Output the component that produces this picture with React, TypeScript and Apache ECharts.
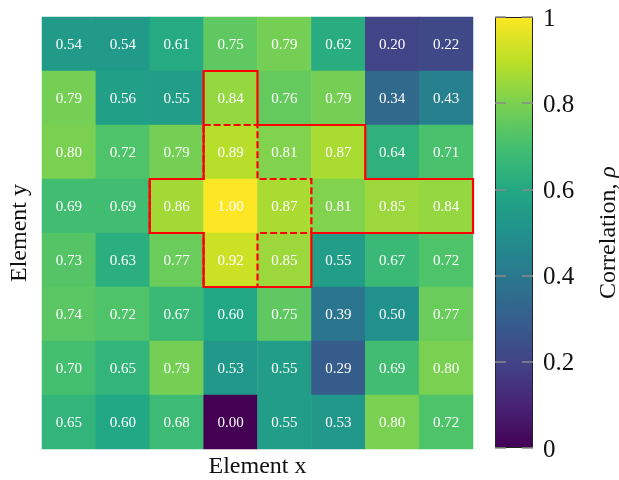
import React, { useEffect, useRef } from "react";
import * as echarts from "echarts";

// Column / row categories of the correlation matrix
const xCategories = ["0", "1", "2", "3", "4", "5", "6", "7"];
const yCategories = ["0", "1", "2", "3", "4", "5", "6", "7"];

// Correlation values, rows listed top to bottom
const rho: number[][] = [
  [0.54, 0.54, 0.61, 0.75, 0.79, 0.62, 0.2, 0.22],
  [0.79, 0.56, 0.55, 0.84, 0.76, 0.79, 0.34, 0.43],
  [0.8, 0.72, 0.79, 0.89, 0.81, 0.87, 0.64, 0.71],
  [0.69, 0.69, 0.86, 1.0, 0.87, 0.81, 0.85, 0.84],
  [0.73, 0.63, 0.77, 0.92, 0.85, 0.55, 0.67, 0.72],
  [0.74, 0.72, 0.67, 0.6, 0.75, 0.39, 0.5, 0.77],
  [0.7, 0.65, 0.79, 0.53, 0.55, 0.29, 0.69, 0.8],
  [0.65, 0.6, 0.68, 0.0, 0.55, 0.53, 0.8, 0.72],
];

// Colour bar tick values
const colorbarTicks = [0, 0.2, 0.4, 0.6, 0.8, 1];

// Viridis colour map stops
const viridis = [
  "#440154", "#482475", "#414487", "#355f8d", "#2a788e", "#21918c",
  "#22a884", "#44bf70", "#7ad151", "#bddf26", "#fde725",
];

// Outlines expressed as cell-edge indices [column edge, row edge]
const regionOutline: [number, number][] = [
  [3, 1], [4, 1], [4, 2], [6, 2], [6, 3], [8, 3], [8, 4], [5, 4],
  [5, 5], [3, 5], [3, 4], [2, 4], [2, 3], [3, 3],
];
const crossOutline: [number, number][] = [
  [3, 2], [4, 2], [4, 3], [5, 3], [5, 4], [4, 4], [4, 5], [3, 5],
  [3, 4], [2, 4], [2, 3], [3, 3],
];

const SERIF = "'Liberation Serif', 'Times New Roman', serif";

export default function App() {
  const ref = useRef<HTMLDivElement>(null);

  useEffect(() => {
    if (!ref.current) return;
    const chart = echarts.init(ref.current, undefined, { renderer: "svg" });

    const heatData: [number, number, number][] = [];
    rho.forEach((row, r) => row.forEach((v, c) => heatData.push([c, r, v])));

    const gradientStops = viridis.map((color, i) => ({
      offset: i / (viridis.length - 1),
      color,
    }));

    const tickStyle = {
      show: true,
      inside: true,
      length: 11,
      lineStyle: { color: "#8a8a8a", width: 1.5 },
    };

    chart.setOption({
      animation: false,
      grid: [
        { left: 42, top: 17, width: 431, height: 432, outerBoundsMode: "none", containLabel: false },
        { left: 495, top: 17, width: 38, height: 431, outerBoundsMode: "none", containLabel: false },
      ],
      xAxis: [
        {
          type: "category",
          gridIndex: 0,
          data: xCategories,
          axisLine: { show: false },
          axisTick: { show: false },
          axisLabel: { show: false },
          splitLine: { show: false },
          name: "Element x",
          nameLocation: "middle",
          nameGap: 4,
          nameTextStyle: { fontFamily: SERIF, fontSize: 24, color: "#111" },
        },
        {
          type: "category",
          gridIndex: 1,
          data: [""],
          axisLine: { show: false },
          axisTick: { show: false },
          axisLabel: { show: false },
        },
      ],
      yAxis: [
        {
          type: "category",
          gridIndex: 0,
          data: yCategories,
          inverse: true,
          axisLine: { show: false },
          axisTick: { show: false },
          axisLabel: { show: false },
          splitLine: { show: false },
          name: "Element y",
          nameLocation: "middle",
          nameRotate: 90,
          nameGap: 12,
          nameTextStyle: { fontFamily: SERIF, fontSize: 24, color: "#111" },
        },
        {
          type: "value",
          gridIndex: 1,
          position: "right",
          min: 0,
          max: 1,
          interval: 0.2,
          z: 10,
          axisLine: { show: false },
          axisTick: tickStyle,
          splitLine: { show: false },
          axisLabel: {
            margin: 10,
            fontFamily: SERIF,
            fontSize: 25,
            color: "#111",
            formatter: (v: number) => String(+v.toFixed(1)),
          },
          name: "Correlation, {i|ρ}",
          nameLocation: "middle",
          nameRotate: 90,
          nameGap: 62,
          nameTextStyle: {
            fontFamily: SERIF,
            fontSize: 24,
            color: "#111",
            rich: { i: { fontFamily: SERIF, fontSize: 24, fontStyle: "italic", color: "#111" } },
          },
        },
        {
          type: "value",
          gridIndex: 1,
          position: "left",
          min: 0,
          max: 1,
          interval: 0.2,
          z: 10,
          axisLine: { show: false },
          axisTick: tickStyle,
          splitLine: { show: false },
          axisLabel: { show: false },
        },
      ],
      visualMap: {
        show: false,
        type: "continuous",
        min: 0,
        max: 1,
        dimension: 2,
        seriesIndex: 0,
        inRange: { color: viridis },
      },
      series: [
        {
          type: "heatmap",
          xAxisIndex: 0,
          yAxisIndex: 0,
          data: heatData,
          label: {
            show: true,
            color: "#fff",
            fontFamily: SERIF,
            fontSize: 15,
            formatter: (p: any) => (p.value[2] as number).toFixed(2),
          },
          itemStyle: { borderWidth: 0 },
        },
        {
          type: "custom",
          xAxisIndex: 0,
          yAxisIndex: 0,
          silent: true,
          z: 5,
          data: [[0, 0]],
          renderItem: (_params: any, api: any) => {
            const origin = api.coord([0, 0]);
            const size = api.size([1, 1]);
            const toPx = ([c, r]: [number, number]) => [
              origin[0] - size[0] / 2 + c * size[0],
              origin[1] - size[1] / 2 + r * size[1],
            ];
            return {
              type: "group",
              children: [
                {
                  type: "polygon",
                  shape: { points: regionOutline.map(toPx) },
                  style: { fill: "none", stroke: "#ff0000", lineWidth: 2.2 },
                },
                {
                  type: "polygon",
                  shape: { points: crossOutline.map(toPx) },
                  style: { fill: "none", stroke: "#ff0000", lineWidth: 2.2, lineDash: [7, 3] },
                },
              ],
            };
          },
        },
        {
          type: "bar",
          xAxisIndex: 1,
          yAxisIndex: 1,
          data: [colorbarTicks[colorbarTicks.length - 1]],
          barWidth: "100%",
          silent: true,
          itemStyle: {
            color: { type: "linear", x: 0, y: 1, x2: 0, y2: 0, colorStops: gradientStops },
            borderColor: "#222",
            borderWidth: 1,
          },
        },
      ],
    });

    return () => chart.dispose();
  }, []);

  return (
    <div
      ref={ref}
      style={{ position: "fixed", left: 0, top: 0, width: 619, height: 480 }}
    />
  );
}
